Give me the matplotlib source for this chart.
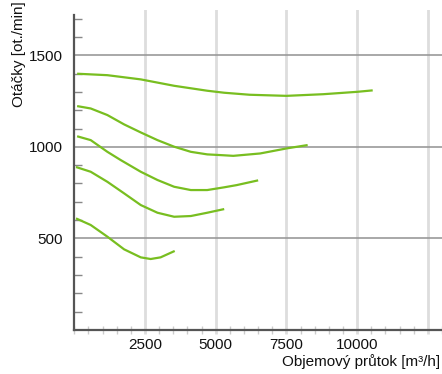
import matplotlib
matplotlib.use("Agg")
import matplotlib.pyplot as plt
from matplotlib.ticker import MultipleLocator, FixedLocator

plt.rcParams['font.family'] = ['Liberation Sans', 'DejaVu Sans']

# Data
c1_x = [100, 1170, 2350, 3530, 4700, 5300, 6200, 7500, 8800, 10000, 10550]
c1_y = [1400, 1392, 1369, 1334, 1307, 1296, 1285, 1279, 1288, 1301, 1309]
c2_x = [100, 580, 1170, 1760, 2350, 2940, 3530, 4120, 4700, 5300, 5620, 6570, 7520, 8250]
c2_y = [1223, 1210, 1174, 1123, 1079, 1037, 1001, 973, 959, 954, 951, 964, 992, 1010]
c3_x = [100, 580, 1170, 1640, 2350, 2940, 3530, 4120, 4700, 5300, 5740, 6500]
c3_y = [1058, 1037, 973, 928, 864, 819, 782, 764, 764, 779, 791, 817]
c4_x = [60, 580, 1170, 1760, 2350, 2940, 3530, 4120, 4700, 5300]
c4_y = [890, 864, 809, 746, 682, 640, 618, 622, 640, 660]
c5_x = [60, 580, 1170, 1760, 2350, 2700, 3050, 3550]
c5_y = [609, 573, 509, 440, 396, 387, 396, 431]
curves = [(c1_x, c1_y), (c2_x, c2_y), (c3_x, c3_y), (c4_x, c4_y), (c5_x, c5_y)]

x_major = [2500, 5000, 7500, 10000, 12500]
x_labels = ['2500', '5000', '7500', '10000', '']
y_major = [500, 1000, 1500]
y_labels = ['500', '1000', '1500']

W, H = 442, 374
fig = plt.figure(figsize=(W / 100, H / 100), dpi=100)
left, right, bottom, top = 74.3, 442, 329.8, 9.7
ax = fig.add_axes([left / W, 1 - bottom / H, (right - left) / W, (bottom - top) / H])
ax.set_xlim(0, 13000)
ax.set_ylim(0, 1750)

for s in ['top', 'right']:
    ax.spines[s].set_visible(False)
for s in ['left', 'bottom']:
    ax.spines[s].set_color('#555555')
    ax.spines[s].set_linewidth(1.6)
ax.spines['left'].set_bounds(0, 1720)

# x ticks
ax.xaxis.set_major_locator(FixedLocator(x_major))
ax.set_xticklabels(x_labels)
ax.xaxis.set_minor_locator(MultipleLocator(500))
ax.tick_params(axis='x', which='major', direction='out', length=3, width=2,
               color='#dddddd', labelsize=11, pad=3, labelcolor='#111111')
ax.tick_params(axis='x', which='minor', direction='inout', length=6, width=1,
               color='#cccccc')

# y ticks
ax.yaxis.set_major_locator(FixedLocator(y_major))
ax.set_yticklabels(y_labels)
ax.yaxis.set_minor_locator(FixedLocator([v for v in range(100, 1800, 100) if v not in y_major]))
ax.tick_params(axis='y', which='major', length=0, labelsize=11, pad=8, labelcolor='#111111')
ax.tick_params(axis='y', which='minor', direction='in', length=6, width=1, color='#888888')

ax.grid(axis='x', which='major', color='#dddddd', linewidth=2)
ax.grid(axis='y', which='major', color='#999999', linewidth=1.2)
ax.set_axisbelow(True)

for xs, ys in curves:
    ax.plot(xs, ys, color='#78be20', linewidth=1.6, solid_capstyle='butt',
            solid_joinstyle='round', zorder=3)

fig.text(19 / W, 1 - 1 / H, 'Otáčky [ot./min]', rotation=90, ha='center', va='top',
         fontsize=11, color='#111111')
fig.text(440 / W, 1 - 362 / H, 'Objemový průtok [m³/h]', ha='right', va='center',
         fontsize=11, color='#111111')

fig.savefig('out.png', dpi=100)
